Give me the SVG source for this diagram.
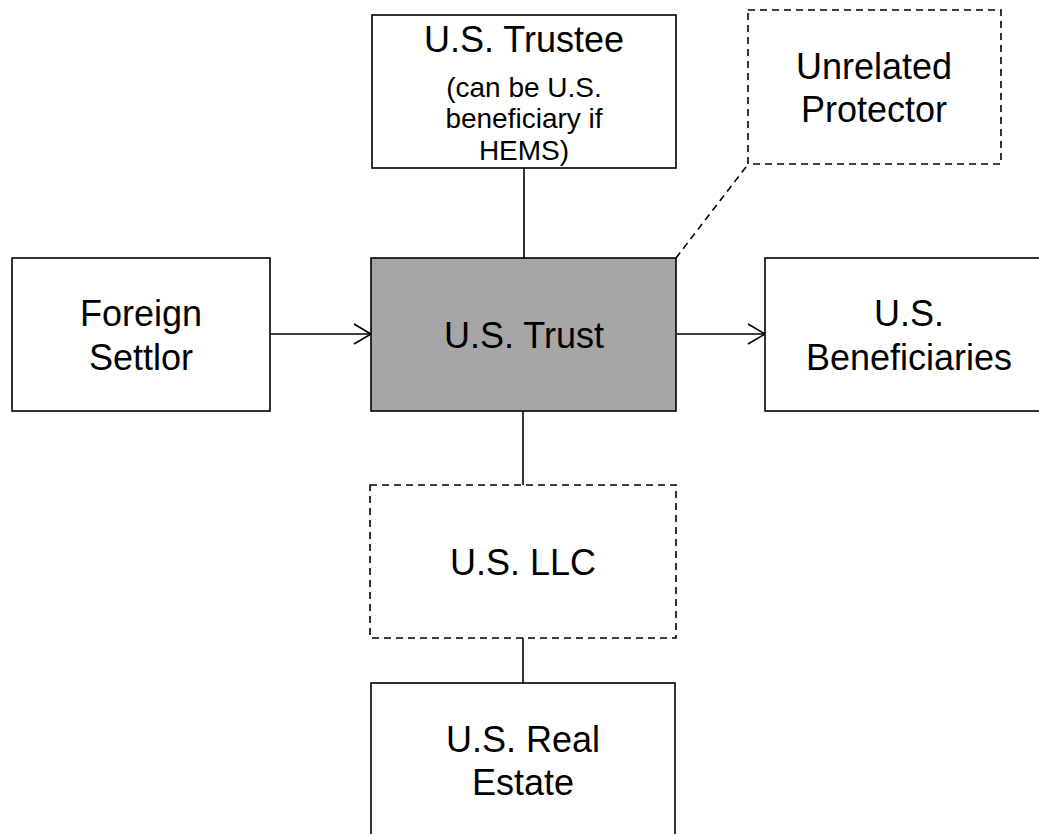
<svg xmlns="http://www.w3.org/2000/svg" width="1039" height="834" viewBox="0 0 1039 834">
<style>
.box{fill:#ffffff;stroke:#000;stroke-width:1.6}
.dash{fill:#ffffff;stroke:#000;stroke-width:1.6;stroke-dasharray:7,5}
.t{font-family:"Liberation Sans",Arial,sans-serif;font-size:36px;fill:#000;text-anchor:middle}
.s{font-family:"Liberation Sans",Arial,sans-serif;font-size:28px;fill:#000;text-anchor:middle}
.ln{stroke:#000;stroke-width:1.6;fill:none}
</style>
<defs>
<marker id="arr" markerWidth="20" markerHeight="22" refX="18" refY="11" orient="auto" markerUnits="userSpaceOnUse">
<path d="M1,1 L18,11 L1,21" fill="none" stroke="#000" stroke-width="1.6"/>
</marker>
</defs>
<rect width="1039" height="834" fill="#ffffff"/>
<g id="connectors">
<line class="ln" x1="524" y1="168" x2="524" y2="258"/>
<line class="ln" x1="746" y1="167" x2="676" y2="258" stroke-dasharray="7,5"/>
<line class="ln" x1="270" y1="334" x2="371" y2="334" marker-end="url(#arr)"/>
<line class="ln" x1="677" y1="334" x2="765" y2="334" marker-end="url(#arr)"/>
<line class="ln" x1="523" y1="411" x2="523" y2="485"/>
<line class="ln" x1="523" y1="638" x2="523" y2="683"/>
</g>
<g id="trustee">
<rect class="box" x="372" y="15" width="304" height="153"/>
<text class="t" x="524" y="52">U.S. Trustee</text>
<text class="s" x="524" y="97">(can be U.S.</text>
<text class="s" x="524" y="128">beneficiary if</text>
<text class="s" x="524" y="160">HEMS)</text>
</g>
<g id="protector">
<rect class="dash" x="748" y="10" width="253" height="154"/>
<text class="t" x="874" y="79">Unrelated</text>
<text class="t" x="874" y="122">Protector</text>
</g>
<g id="settlor">
<rect class="box" x="12" y="258" width="258" height="153"/>
<text class="t" x="141" y="326">Foreign</text>
<text class="t" x="141" y="370">Settlor</text>
</g>
<g id="trust">
<rect class="box" x="371" y="258" width="305" height="153" style="fill:#a6a6a6"/>
<text class="t" x="524" y="348">U.S. Trust</text>
</g>
<g id="beneficiaries">
<rect class="box" x="765" y="258" width="290" height="153"/>
<text class="t" x="909" y="326">U.S.</text>
<text class="t" x="909" y="370">Beneficiaries</text>
</g>
<g id="llc">
<rect class="dash" x="370" y="485" width="306" height="153"/>
<text class="t" x="523" y="575">U.S. LLC</text>
</g>
<g id="realestate">
<rect class="box" x="371" y="683" width="304" height="160"/>
<text class="t" x="523" y="752">U.S. Real</text>
<text class="t" x="523" y="795">Estate</text>
</g>
</svg>
